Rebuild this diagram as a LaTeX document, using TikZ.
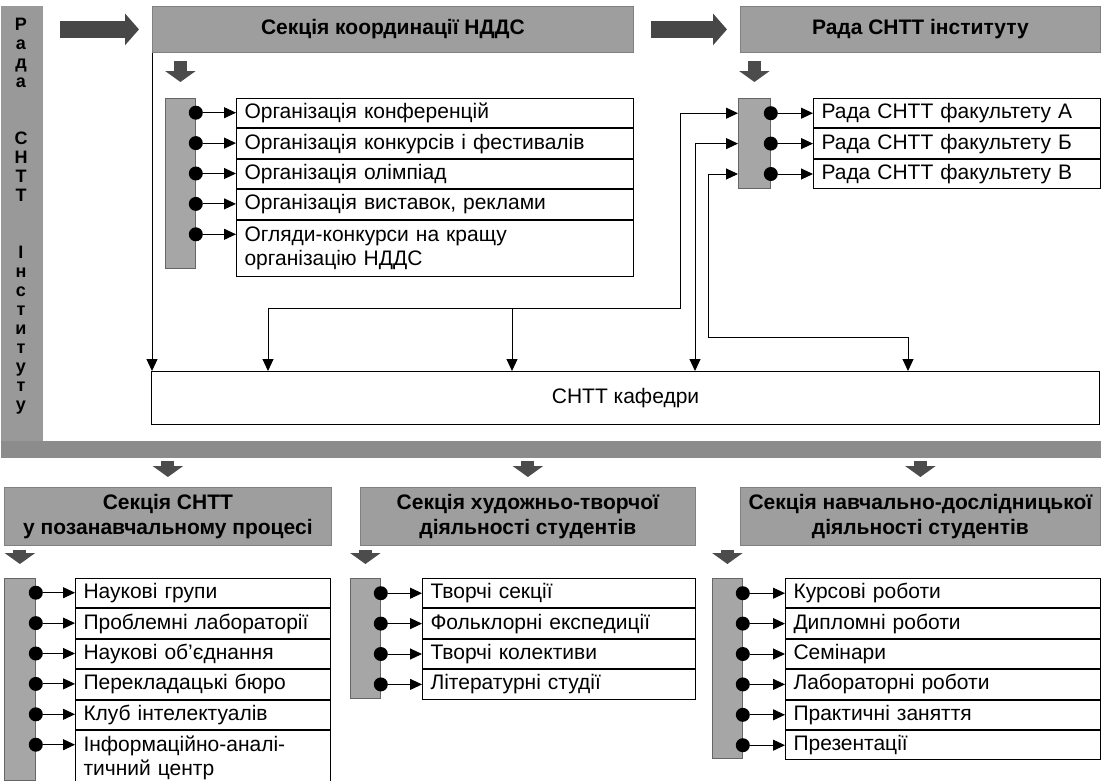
\documentclass[tikz,border=0pt]{standalone}
\usepackage{fontspec}
\setmainfont{Liberation Sans}
\usetikzlibrary{positioning}
\usetikzlibrary{arrows.meta}

\newcommand{\txtsize}{\fontsize{21}{23.5}\selectfont}
\newcommand{\hdrsize}{\fontsize{21}{25.5}\selectfont\bfseries}
\newcommand{\vtsize}{\fontsize{18}{19}\selectfont\bfseries}

\tikzset{
  band/.style={fill=black!40, draw=none},
  graybar/.style={fill=black!35, draw=black!60, line width=0.8pt},
  header/.style={fill=black!38, draw=black!50, line width=0.8pt, font=\hdrsize, align=center, inner sep=0pt},
  item/.style={draw, fill=white, font=\txtsize, align=left, inner xsep=8pt, inner ysep=0pt, minimum height=29.4pt},
  bigarrow/.style={draw=black!72, line width=17pt, -{Triangle[length=14pt,width=31pt]}, shorten <=17pt, shorten >=13pt},
  smallarrow/.style={draw=black!70, line width=13pt, -{Triangle[length=11pt,width=30pt]}},
  link/.style={-{Triangle[length=12pt,width=11pt]}},
  linkboth/.style={{Triangle[length=12pt,width=11pt]}-{Triangle[length=12pt,width=11pt]}},
  dot/.style={circle, fill, inner sep=0pt, minimum size=14pt},
}

\begin{document}
\begin{tikzpicture}[x=1pt, y=-1pt, line width=1pt]
\useasboundingbox (0,0) rectangle (1108,780);

% L-shaped band: Rada SNTT instytutu
\node[band, anchor=north west, minimum width=42pt, minimum height=452pt] (vbar) at (0,5) {};
\node[band, fill=black!45, anchor=north west, minimum width=1100pt, minimum height=17pt] (hbar) at (0,440) {};
\node[font=\vtsize, align=center, inner sep=0pt] (vtext) at (21,216)
  {Р\\а\\д\\а\\[38pt]С\\Н\\Т\\Т\\[38pt]І\\н\\с\\т\\и\\т\\у\\т\\у};

% top headers
\node[header, anchor=north west, minimum width=481pt, minimum height=46pt] (hdrK) at (152,6) {Секція координації НДДС};
\node[header, anchor=north west, minimum width=360pt, minimum height=46pt] (hdrR) at (740,6) {Рада СНТТ інституту};
\draw[bigarrow] (vbar.east |- hdrK.west) -- (hdrK.west);
\draw[bigarrow] (hdrK) -- (hdrR);

% coordination section
\node[graybar, anchor=north west, minimum width=30pt, minimum height=170pt] (gbarK) at (165,98) {};
\node[item, anchor=north west, text width=381pt] (k1) at (236,98) {Організація конференцій};
\node[item, text width=381pt, below=0pt of k1] (k2) {Організація конкурсів і фестивалів};
\node[item, text width=381pt, below=0pt of k2] (k3) {Організація олімпіад};
\node[item, text width=381pt, below=0pt of k3] (k4) {Організація виставок, реклами};
\node[item, text width=381pt, minimum height=56pt, below=0pt of k4] (k5) {Огляди-конкурси на кращу\\організацію НДДС};
\draw[smallarrow, shorten <=8pt, shorten >=16pt] (gbarK.north |- hdrK.south) -- (gbarK.north);
\foreach \i in {1,...,5} {
  \coordinate (kr\i) at ([yshift=-14.7pt]k\i.north west);
  \node[dot] (kd\i) at (gbarK.east |- kr\i) {};
  \draw[link] (kd\i) -- (kr\i);
}

% faculty councils
\node[graybar, anchor=north west, minimum width=32pt, minimum height=90pt] (gbarR) at (738,98) {};
\node[item, anchor=north west, text width=271pt] (r1) at (813,98) {Рада СНТТ факультету А};
\node[item, text width=271pt, below=0pt of r1] (r2) {Рада СНТТ факультету Б};
\node[item, text width=271pt, below=0pt of r2] (r3) {Рада СНТТ факультету В};
\draw[smallarrow, shorten <=8pt, shorten >=16pt] (gbarR.north |- hdrR.south) -- (gbarR.north);
\foreach \i in {1,2,3} {
  \node[dot] (rd\i) at (gbarR.east |- r\i) {};
  \draw[link] (rd\i) -- (r\i);
}

% departments
\node[draw, anchor=north west, minimum width=948pt, minimum height=53pt, font=\txtsize] (kaf) at (151,371) {СНТТ кафедри};
\coordinate (tA) at (268,308);
\coordinate (tM) at (512,308);
\coordinate (tB) at (680,308);
\coordinate (tC) at (695,308);
\coordinate (tD) at (708,337);
\coordinate (tE) at (908,337);
\draw[link] (hdrK.south west) -- (hdrK.south west |- kaf.north);
\draw[linkboth] (gbarR.west |- r1) -| (tB) -- (tA) -- (tA |- kaf.north);
\draw[link] (tM) -- (tM |- kaf.north);
\draw[linkboth] (gbarR.west |- r2) -| (tC |- kaf.north);
\draw[linkboth] (gbarR.west |- r3) -| (tD) -- (tE) -- (tE |- kaf.north);

% bottom sections
\node[header, anchor=north west, minimum width=327pt, minimum height=58pt] (hdrA) at (4,487) {Секція СНТТ\\у позанавчальному процесі};
\node[header, anchor=north west, minimum width=335pt, minimum height=58pt] (hdrB) at (360,487) {Секція художньо-творчої\\діяльності студентів};
\node[header, anchor=north west, minimum width=360pt, minimum height=58pt] (hdrC) at (740,487) {Секція навчально-дослідницької\\діяльності студентів};
\foreach \h in {hdrA,hdrB,hdrC}
  \draw[smallarrow, shorten <=3pt, shorten >=10pt] (hbar.south -| \h) -- (\h.north);

% extracurricular
\node[graybar, anchor=north west, minimum width=31pt, minimum height=202pt] (gbarA) at (4,578) {};
\node[item, anchor=north west, text width=239pt] (a1) at (75,578) {Наукові групи};
\node[item, text width=239pt, below=0pt of a1] (a2) {Проблемні лабораторії};
\node[item, text width=239pt, below=0pt of a2] (a3) {Наукові об’єднання};
\node[item, text width=239pt, below=0pt of a3] (a4) {Перекладацькі бюро};
\node[item, text width=239pt, below=0pt of a4] (a5) {Клуб інтелектуалів};
\node[item, text width=239pt, minimum height=55pt, below=0pt of a5] (a6) {Інформаційно-аналі-\\тичний центр};
\draw[smallarrow, shorten <=4pt, shorten >=14pt] (gbarA.north |- hdrA.south) -- (gbarA.north);
\foreach \i in {1,...,6} {
  \coordinate (ar\i) at ([yshift=-14.7pt]a\i.north west);
  \node[dot] (ad\i) at (gbarA.east |- ar\i) {};
  \draw[link] (ad\i) -- (ar\i);
}

% art and creative activity
\node[graybar, anchor=north west, minimum width=30pt, minimum height=120pt] (gbarB) at (350,578) {};
\node[item, anchor=north west, text width=257pt] (b1) at (422,578) {Творчі секції};
\node[item, text width=257pt, below=0pt of b1] (b2) {Фольклорні експедиції};
\node[item, text width=257pt, below=0pt of b2] (b3) {Творчі колективи};
\node[item, text width=257pt, below=0pt of b3] (b4) {Літературні студії};
\draw[smallarrow, shorten <=4pt, shorten >=14pt] (gbarB.north |- hdrB.south) -- (gbarB.north);
\foreach \i in {1,...,4} {
  \node[dot] (bd\i) at (gbarB.east |- b\i) {};
  \draw[link] (bd\i) -- (b\i);
}

% study and research
\node[graybar, anchor=north west, minimum width=30pt, minimum height=180pt] (gbarC) at (712,578) {};
\node[item, anchor=north west, text width=299pt] (c1) at (785,578) {Курсові роботи};
\node[item, text width=299pt, below=0pt of c1] (c2) {Дипломні роботи};
\node[item, text width=299pt, below=0pt of c2] (c3) {Семінари};
\node[item, text width=299pt, below=0pt of c3] (c4) {Лабораторні роботи};
\node[item, text width=299pt, below=0pt of c4] (c5) {Практичні заняття};
\node[item, text width=299pt, below=0pt of c5] (c6) {Презентації};
\draw[smallarrow, shorten <=4pt, shorten >=14pt] (gbarC.north |- hdrC.south) -- (gbarC.north);
\foreach \i in {1,...,6} {
  \node[dot] (cd\i) at (gbarC.east |- c\i) {};
  \draw[link] (cd\i) -- (c\i);
}
\end{tikzpicture}
\end{document}
